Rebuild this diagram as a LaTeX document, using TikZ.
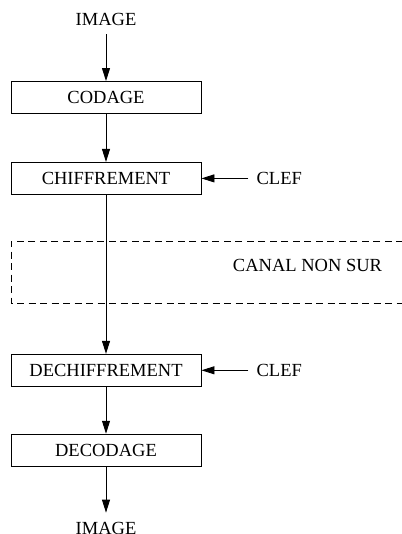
\documentclass[tikz,border=0pt]{standalone}
\usepackage{fontspec}
\setmainfont{Liberation Serif}
\usetikzlibrary{positioning, arrows.meta}

\begin{document}
\begin{tikzpicture}[
  x=1pt, y=1pt,
  font=\fontsize{18.5}{22}\selectfont,
  box/.style={
    rectangle, draw, line width=0.9pt,
    minimum width=190pt, minimum height=32pt,
    text height=12.2pt, text depth=0pt, inner sep=0pt
  },
  lbl/.style={text height=12.2pt, text depth=0pt, inner sep=8pt},
  arr/.style={-{Triangle[length=13pt, width=8pt]}, line width=0.9pt},
  canalline/.style={dashed, dash pattern=on 7pt off 4.5pt, line width=0.9pt}
]
\useasboundingbox (0,0) rectangle (401,-534);

\node[box] (codage) at (106,-97.5) {CODAGE};
\node[lbl, above=47pt of codage] (img1) {IMAGE};
\node[box, below=48pt of codage] (chiff) {CHIFFREMENT};
\node[lbl, right=47pt of chiff] (clef1) {CLEF};
\node[box, below=159pt of chiff] (dechiff) {DECHIFFREMENT};
\node[lbl, right=47pt of dechiff] (clef2) {CLEF};
\node[box, below=47pt of dechiff] (decodage) {DECODAGE};
\node[lbl, below=47pt of decodage] (img2) {IMAGE};

% canal non sur
\coordinate (canal-ne) at (403,-241);
\coordinate (canal-w) at (11,-303);
\coordinate (canal-se) at (403,-303);
\draw[canalline] (canal-ne) -| (canal-w) -- (canal-se);
\node[lbl, inner sep=0pt] (canal) at (307.5,-265) {CANAL NON SUR};

\draw[arr] (img1.south) -- (codage.north);
\draw[arr] (codage.south) -- (chiff.north);
\draw[arr] (chiff.south) -- (dechiff.north);
\draw[arr] (dechiff.south) -- (decodage.north);
\draw[arr, shorten >=1pt] (decodage.south) -- (img2.north);
\draw[arr] (clef1.west) -- (chiff.east);
\draw[arr] (clef2.west) -- (dechiff.east);

\end{tikzpicture}
\end{document}
